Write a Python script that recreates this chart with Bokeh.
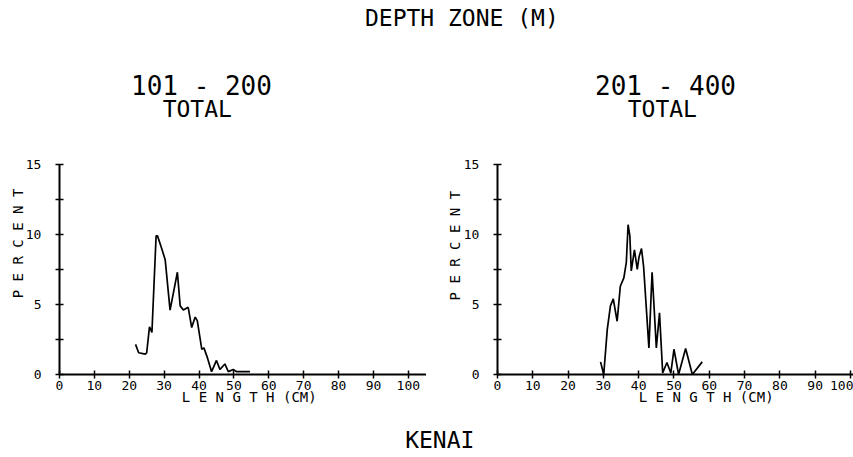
from bokeh.plotting import figure
from bokeh.layouts import column, row
from bokeh.models import Label, FixedTicker
from bokeh.embed import file_html
from bokeh.resources import INLINE
import math

FONT = "DejaVu Sans Mono"

# ---- data ----
length_a = [21.8, 22.7, 24.6, 25.0, 25.8, 26.5, 27.7, 28.1, 29.3, 30.3, 31.7, 33.8, 34.6,
            35.5, 36.9, 37.9, 38.9, 39.5, 40.8, 41.4, 42.4, 43.6, 45.0, 46.0, 47.4, 48.4,
            49.8, 50.8, 54.6]
pct_a = [2.15, 1.55, 1.45, 1.55, 3.4, 3.0, 9.9, 9.9, 9.0, 8.2, 4.6, 7.3, 4.9,
         4.6, 4.8, 3.35, 4.1, 3.85, 1.8, 1.9, 1.2, 0.2, 1.0, 0.35, 0.75, 0.2,
         0.35, 0.2, 0.2]

length_b = [29.2, 30.1, 31.1, 32.0, 32.8, 33.9, 34.8, 35.8, 36.5, 37.0, 37.5, 37.9, 38.8,
            39.6, 40.1, 40.8, 41.4, 42.9, 43.8, 44.3, 45.0, 45.9, 46.8, 48.0, 49.1, 50.0,
            51.3, 53.3, 55.2, 58.0]
pct_b = [0.9, 0.0, 3.2, 4.9, 5.4, 3.8, 6.3, 6.9, 8.0, 10.7, 9.9, 7.4, 8.9,
         7.5, 8.4, 9.0, 7.7, 1.9, 7.3, 5.1, 1.9, 4.4, 0.1, 0.85, 0.1, 1.8,
         0.0, 1.85, 0.0, 0.9]

x_ticks = [0, 10, 20, 30, 40, 50, 60, 70, 80, 90, 100]
y_ticks = [0, 5, 10, 15]
y_minor = [2.5, 7.5, 12.5]

zones = ["101 - 200", "201 - 400"]
subtitle = "TOTAL"
header = "DEPTH ZONE  (M)"
footer = "KENAI"
y_title = "P E R C E N T"
x_title = "L E N G T H  (CM)"


def blank_fig(w, h):
    f = figure(width=w, height=h, x_range=(0, 1), y_range=(0, 1),
               output_backend="svg", toolbar_location=None, title_location=None,
               min_border=0, min_border_left=0, min_border_right=0,
               min_border_top=0, min_border_bottom=0)
    f.axis.visible = False
    f.grid.visible = False
    f.outline_line_color = None
    return f


def panel(w, xr, xs, ys, zone, zone_x, total_x, ylab_x, ylab_y, xlab_x):
    p = figure(width=w, height=380, x_range=xr, y_range=(-3.29, 23.86),
               output_backend="svg", toolbar_location=None, title_location=None,
               min_border=0, min_border_left=0, min_border_right=0,
               min_border_top=0, min_border_bottom=0)
    p.grid.visible = False
    p.outline_line_color = None
    p.line(xs, ys, line_color="black", line_width=1.7)

    p.xaxis.ticker = FixedTicker(ticks=x_ticks, minor_ticks=[])
    p.yaxis.ticker = FixedTicker(ticks=y_ticks, minor_ticks=y_minor)
    p.xaxis.fixed_location = 0
    p.yaxis.fixed_location = 0
    p.xaxis.bounds = (0, xr[1])
    p.yaxis.bounds = (0, 15)
    for ax in (p.xaxis[0], p.yaxis[0]):
        ax.axis_line_color = "black"
        ax.axis_line_width = 2
        ax.major_tick_line_color = "black"
        ax.major_tick_line_width = 1.5
        ax.major_tick_in = 4
        ax.major_tick_out = 4
        ax.minor_tick_line_color = "black"
        ax.minor_tick_line_width = 1.5
        ax.minor_tick_in = 4
        ax.minor_tick_out = 4
        ax.major_label_text_font = FONT
        ax.major_label_text_color = "black"
        ax.major_label_text_font_size = "13px"
    p.xaxis.major_label_standoff = 3
    p.xaxis.major_label_text_align = "right"
    p.yaxis.major_label_standoff = 14

    p.add_layout(Label(x=zone_x, y=20.6, text=zone, text_font=FONT,
                       text_font_size="26px", text_align="center",
                       text_baseline="middle", text_color="black"))
    p.add_layout(Label(x=total_x, y=18.96, text=subtitle, text_font=FONT,
                       text_font_size="23px", text_align="center",
                       text_baseline="middle", text_color="black"))
    p.add_layout(Label(x=ylab_x, y=ylab_y, text=y_title, text_font=FONT,
                       text_font_size="14px", text_align="center",
                       text_baseline="middle", angle=math.pi / 2,
                       text_color="black"))
    p.add_layout(Label(x=xlab_x, y=-1.64, text=x_title, text_font=FONT,
                       text_font_size="14px", text_align="center",
                       text_baseline="middle", text_color="black"))
    return p


top = blank_fig(853, 40)
top.add_layout(Label(x=0.549, y=0.575, text=header, text_font=FONT,
                     text_font_size="23px", text_align="center",
                     text_baseline="middle", text_color="black"))

p1 = panel(426, (-16.9, 105.2), length_a, pct_a, zones[0], 40.7, 39.5, -12.0, 9.36, 55.6)
p2 = panel(427, (-20.1, 100.85), length_b, pct_b, zones[1], 47.6, 46.7, -11.9, 9.2, 60.3)

bottom = blank_fig(853, 37)
bottom.add_layout(Label(x=0.515, y=0.46, text=footer, text_font=FONT,
                        text_font_size="23px", text_align="center",
                        text_baseline="middle", text_color="black"))

layout = column(top, row(p1, p2, spacing=0), bottom, spacing=0)

open("out.html", "w").write(file_html(layout, INLINE))
